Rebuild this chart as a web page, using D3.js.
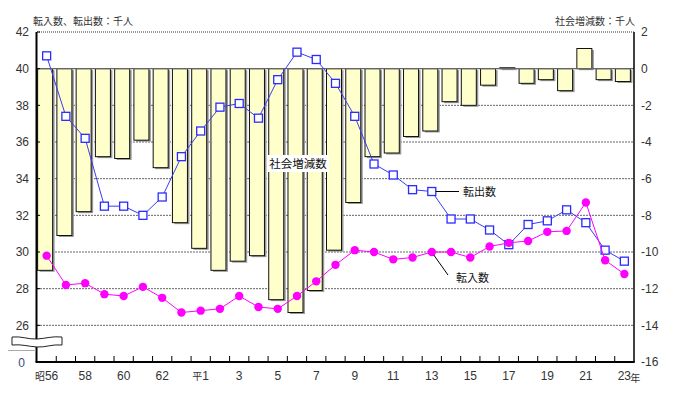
<!DOCTYPE html>
<html><head><meta charset="utf-8">
<script src="https://cdn.jsdelivr.net/npm/d3@7"></script>
<style>
html,body{margin:0;padding:0;background:#fff;}
svg{display:block;}
text{font-family:"Liberation Sans",Arial,sans-serif;}
.jp{font-family:"Noto Sans CJK JP","Noto Sans",sans-serif;}
</style></head>
<body>
<svg id="c" width="674" height="394"></svg>
<script>
// ---- data ----
const years = ["昭56","57","58","59","60","61","62","63","平1","2","3","4","5","6","7","8","9","10","11","12","13","14","15","16","17","18","19","20","21","22","23"];
const tenshutsu = [40.7,37.4,36.2,32.5,32.5,32.0,33.0,35.2,36.6,37.9,38.1,37.3,39.4,40.9,40.5,39.2,37.4,34.8,34.2,33.4,33.3,31.8,31.8,31.2,30.4,31.5,31.7,32.3,31.6,30.1,29.5];
const tennyu    = [29.8,28.2,28.3,27.7,27.6,28.1,27.5,26.7,26.8,26.9,27.6,27.0,26.9,27.6,28.4,29.3,30.1,30.0,29.6,29.7,30.0,30.0,29.7,30.3,30.5,30.6,31.1,31.15,32.7,29.55,28.8];
const shakai    = [-11.0,-9.1,-7.8,-4.8,-4.9,-3.9,-5.4,-8.4,-9.8,-11.0,-10.5,-10.2,-12.6,-13.3,-12.1,-9.9,-7.3,-4.8,-4.6,-3.7,-3.4,-1.8,-2.0,-0.9,0.05,-0.8,-0.6,-1.2,1.1,-0.6,-0.7];
const leftTicks  = [26,28,30,32,34,36,38,40,42];
const leftBreakLabel = "0";
const rightTicks = [2,0,-2,-4,-6,-8,-10,-12,-14,-16];
const gridTicks  = [-2,-4,-6,-8,-10,-12,-14];
const leftTitle  = "転入数、転出数：千人";
const rightTitle = "社会増減数：千人";
const labelShakai = "社会増減数";
const labelOut = "転出数";
const labelIn  = "転入数";
const yearUnit = "年";

// ---- layout ----
const L = 37, R = 634, T = 32, B = 362;
const svg = d3.select("#c");
const x = d3.scaleBand().domain(years).range([L, R]).padding(0);
const bw = x.bandwidth();
const cx = d => x(d) + bw / 2;
const yR = d3.scaleLinear().domain([-16, 2]).range([B, T]);
const yL = d3.scaleLinear().domain([24, 42]).range([B, T]);

// gridlines
svg.append("g").selectAll("line").data(gridTicks).join("line")
  .attr("x1", L).attr("x2", R).attr("y1", d => yR(d)).attr("y2", d => yR(d))
  .attr("stroke", "#666").attr("stroke-width", 1).attr("stroke-dasharray", "2,1");
// top dotted line
svg.append("line").attr("x1", L).attr("x2", R).attr("y1", yR(2)).attr("y2", yR(2))
  .attr("stroke", "#777").attr("stroke-width", 1.5).attr("stroke-dasharray", "1,1");

// bars
const barW = Math.round(bw * 0.78);
const gb = svg.append("g");
gb.selectAll("rect.sh").data(shakai).join("rect").attr("class", "sh")
  .attr("x", (d, i) => cx(years[i]) - barW / 2 + 0.5)
  .attr("y", d => Math.min(yR(d), yR(0)) + 1.5)
  .attr("width", barW)
  .attr("height", d => Math.abs(yR(d) - yR(0)))
  .attr("fill", "#999");
gb.selectAll("rect.b").data(shakai).join("rect").attr("class", "b")
  .attr("x", (d, i) => cx(years[i]) - barW / 2 - 1.5)
  .attr("y", d => Math.min(yR(d), yR(0)))
  .attr("width", barW)
  .attr("height", d => Math.abs(yR(d) - yR(0)))
  .attr("fill", "#ffffcc").attr("stroke", "#111").attr("stroke-width", 1);

// zero line
svg.append("line").attr("x1", L).attr("x2", R).attr("y1", yR(0)).attr("y2", yR(0))
  .attr("stroke", "#666").attr("stroke-width", 1.2);

// axes lines
svg.append("line").attr("x1", L - 0.5).attr("x2", L - 0.5).attr("y1", T).attr("y2", B)
  .attr("stroke", "#000").attr("stroke-width", 2);
svg.append("line").attr("x1", R).attr("x2", R).attr("y1", T).attr("y2", B)
  .attr("stroke", "#000").attr("stroke-width", 1.5);
svg.append("line").attr("x1", L - 1.5).attr("x2", R + 0.75).attr("y1", B).attr("y2", B)
  .attr("stroke", "#000").attr("stroke-width", 2);
// x ticks at band boundaries
svg.append("g").selectAll("line").data(years.slice(1)).join("line")
  .attr("x1", d => x(d)).attr("x2", d => x(d)).attr("y1", B).attr("y2", B - 6)
  .attr("stroke", "#000").attr("stroke-width", 1);
// left small inner ticks
svg.append("g").selectAll("line").data(leftTicks).join("line")
  .attr("x1", L).attr("x2", L + 3).attr("y1", d => yL(d)).attr("y2", d => yL(d))
  .attr("stroke", "#000");

// axis labels
const axL = d3.axisLeft(yL).tickValues(leftTicks).tickSize(0).tickPadding(8);
const gL = svg.append("g").attr("transform", `translate(${L},0)`).call(axL);
gL.select(".domain").remove();
gL.selectAll("text").attr("font-size", 12).attr("fill", "#333").attr("font-family", "Liberation Sans, Arial, sans-serif");
svg.append("text").attr("x", 25).attr("y", yL(24) + 4.5).attr("text-anchor", "end")
  .attr("font-size", 12).attr("fill", "#3a4a80").text(leftBreakLabel);

const axR = d3.axisRight(yR).tickValues(rightTicks).tickSize(0).tickPadding(7).tickFormat(d3.format("d"));
const gR = svg.append("g").attr("transform", `translate(${R},0)`).call(axR);
gR.select(".domain").remove();
gR.selectAll("text").attr("font-size", 12).attr("fill", "#333").attr("font-family", "Liberation Sans, Arial, sans-serif")
  .text(d => d < 0 ? "-" + Math.abs(d) : String(d));

// x labels
const xl = svg.append("g");
years.forEach((d, i) => {
  if (i % 2 !== 0) return;
  const t = xl.append("text").attr("x", cx(d)).attr("y", 380).attr("text-anchor", "middle")
    .attr("font-size", 12).attr("fill", "#333");
  const m = d.match(/^(\D*)(\d+)$/);
  if (m[1]) t.append("tspan").attr("class", "jp").attr("font-size", 10).text(m[1]);
  t.append("tspan").text(m[2]);
});
svg.append("text").attr("class", "jp").attr("x", cx(years[years.length - 1]) + 6).attr("y", 382)
  .attr("font-size", 10).attr("fill", "#333").text(yearUnit);

// titles
svg.append("text").attr("class", "jp").attr("x", 33).attr("y", 25).attr("font-size", 10)
  .attr("fill", "#333").text(leftTitle);
svg.append("text").attr("class", "jp").attr("x", 635).attr("y", 25).attr("font-size", 10)
  .attr("text-anchor", "end").attr("fill", "#333").text(rightTitle);

// lines
const lineOut = d3.line().x((d, i) => cx(years[i])).y(d => yL(d));
svg.append("path").attr("d", lineOut(tenshutsu)).attr("fill", "none")
  .attr("stroke", "#3a3af0").attr("stroke-width", 1);
svg.append("g").selectAll("rect").data(tenshutsu).join("rect")
  .attr("x", (d, i) => cx(years[i]) - 4).attr("y", d => yL(d) - 4)
  .attr("width", 8).attr("height", 8)
  .attr("fill", "#fff").attr("stroke", "#2b2bff").attr("stroke-width", 1.3);

svg.append("path").attr("d", lineOut(tennyu)).attr("fill", "none")
  .attr("stroke", "#ff00ff").attr("stroke-width", 1);
svg.append("g").selectAll("circle").data(tennyu).join("circle")
  .attr("cx", (d, i) => cx(years[i])).attr("cy", d => yL(d)).attr("r", 4.2)
  .attr("fill", "#ff00ff");

// annotations
const iLab = 20; // year index the leaders point at
svg.append("rect").attr("x", 267).attr("y", 155).attr("width", 62).attr("height", 17).attr("fill", "#fff");
svg.append("text").attr("class", "jp").attr("x", 298).attr("y", 168).attr("text-anchor", "middle")
  .attr("font-size", 11.5).attr("fill", "#111").text(labelShakai);

svg.append("line").attr("x1", cx(years[iLab]) + 4).attr("y1", yL(tenshutsu[iLab]))
  .attr("x2", 459).attr("y2", yL(tenshutsu[iLab]))
  .attr("stroke", "#000").attr("stroke-width", 1);
svg.append("text").attr("class", "jp").attr("x", 463).attr("y", 196)
  .attr("font-size", 11).attr("fill", "#111").text(labelOut);

svg.append("line").attr("x1", cx(years[iLab]) + 2).attr("y1", yL(tennyu[iLab]) + 3)
  .attr("x2", 448).attr("y2", 275)
  .attr("stroke", "#000").attr("stroke-width", 1);
svg.append("text").attr("class", "jp").attr("x", 456).attr("y", 282)
  .attr("font-size", 11).attr("fill", "#111").text(labelIn);

// axis break symbol
svg.append("path")
  .attr("d", "M12,337 C22,336 28,339.5 37,339 S52,336 62,337 L62,345 C52,344 46,347.5 37,347 S22,344 12,345 Z")
  .attr("fill", "#fff").attr("stroke", "#222").attr("stroke-width", 1);
svg.append("line").attr("x1", 8).attr("x2", 36).attr("y1", 350.5).attr("y2", 350.5)
  .attr("stroke", "#aaa").attr("stroke-width", 1);
</script>
</body></html>
